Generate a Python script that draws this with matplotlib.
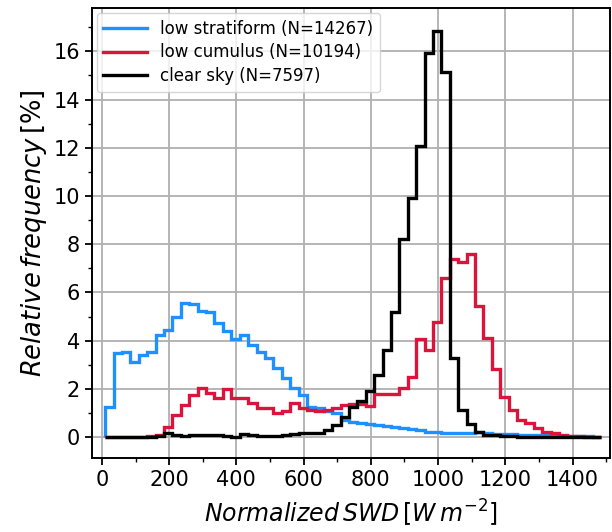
import numpy as np
import matplotlib
matplotlib.use("Agg")
import matplotlib.pyplot as plt

# bin edges (W m-2), 25 W m-2 wide
bin_edges = np.arange(10, 1500, 25)

# relative frequency [%] per bin
low_stratiform = [1.23, 3.5, 3.55, 3.13, 3.42, 3.52, 4.25, 4.45, 5.0, 5.55,
                  5.52, 5.25, 5.18, 4.72, 4.38, 4.06, 4.22, 3.82, 3.55, 3.27,
                  2.85, 2.44, 2.02, 1.75, 1.26, 1.19, 1.08, 1.0, 0.7, 0.64,
                  0.6, 0.55, 0.5, 0.46, 0.42, 0.38, 0.34, 0.28, 0.22, 0.2,
                  0.17, 0.15, 0.16, 0.15, 0.2, 0.18, 0.13, 0.13, 0.12, 0.1,
                  0.1, 0.08, 0.08, 0.07, 0.06, 0.05, 0.04, 0.03, 0.02]
low_cumulus = [0, 0, 0, 0, 0, 0.03, 0.1, 0.43, 0.91, 1.33,
               1.75, 2.02, 1.82, 1.63, 1.98, 1.61, 1.61, 1.4, 1.22, 1.22,
               0.98, 1.1, 1.4, 1.2, 1.12, 1.1, 1.12, 1.22, 1.35, 1.38,
               1.38, 1.3, 1.79, 1.79, 1.79, 2.02, 2.5, 4.06, 3.62, 4.79,
               6.6, 7.38, 7.25, 7.59, 5.42, 4.1, 2.81, 1.65, 1.12, 0.71,
               0.57, 0.36, 0.22, 0.15, 0.1, 0.05, 0.03, 0.02, 0.01]
clear_sky = [0.02, 0.02, 0.02, 0.02, 0.02, 0.02, 0.06, 0.18, 0.08, 0.04,
             0.08, 0.08, 0.08, 0.08, 0.06, 0.02, 0.14, 0.08, 0.06, 0.04,
             0.03, 0.08, 0.12, 0.15, 0.18, 0.16, 0.3, 0.5, 0.83, 1.25,
             1.5, 1.92, 2.58, 3.62, 5.2, 8.2, 9.9, 12.07, 15.95, 16.85,
             15.16, 3.27, 1.12, 0.54, 0.2, 0.09, 0.07, 0.06, 0.03, 0.02,
             0.02, 0.02, 0.02, 0.02, 0.02, 0.02, 0.02, 0.02, 0.02]

series = [
    (low_stratiform, "low stratiform (N=14267)", "#1e90ff"),
    (low_cumulus, "low cumulus (N=10194)", "#dc143c"),
    (clear_sky, "clear sky (N=7597)", "black"),
]

fig = plt.figure(figsize=(6.12, 5.32), dpi=100)
ax = fig.add_axes([0.150, 0.139, 0.847, 0.846])

for vals, label, color in series:
    ax.stairs(vals, bin_edges, color=color, lw=2.4, label=label)

ax.set_xlim(-30, 1512)
ax.set_ylim(-0.87, 17.8)
ax.set_xticks(np.arange(0, 1401, 200))
ax.set_xticks(np.arange(0, 1501, 100), minor=True)
ax.set_yticks(np.arange(0, 17, 2))
ax.set_yticks(np.arange(0, 18, 1), minor=True)
ax.grid(True, which="major", color="#b0b0b0", lw=1.3)
ax.set_axisbelow(True)
ax.tick_params(labelsize=15, width=1.3, length=5)
ax.tick_params(which="minor", width=1.0, length=3)
for s in ax.spines.values():
    s.set_linewidth(1.4)

ax.set_xlabel(r"$Normalized\,SWD\,[W\,m^{-2}]$", fontsize=17, labelpad=6)
ax.set_ylabel(r"$Relative\,frequency\,[\%]$", fontsize=18.5, labelpad=3)

ax.legend(loc="upper left", fontsize=12, handlelength=2.6,
          labelspacing=0.35, borderaxespad=0.3)

fig.savefig("out.png", dpi=100)
